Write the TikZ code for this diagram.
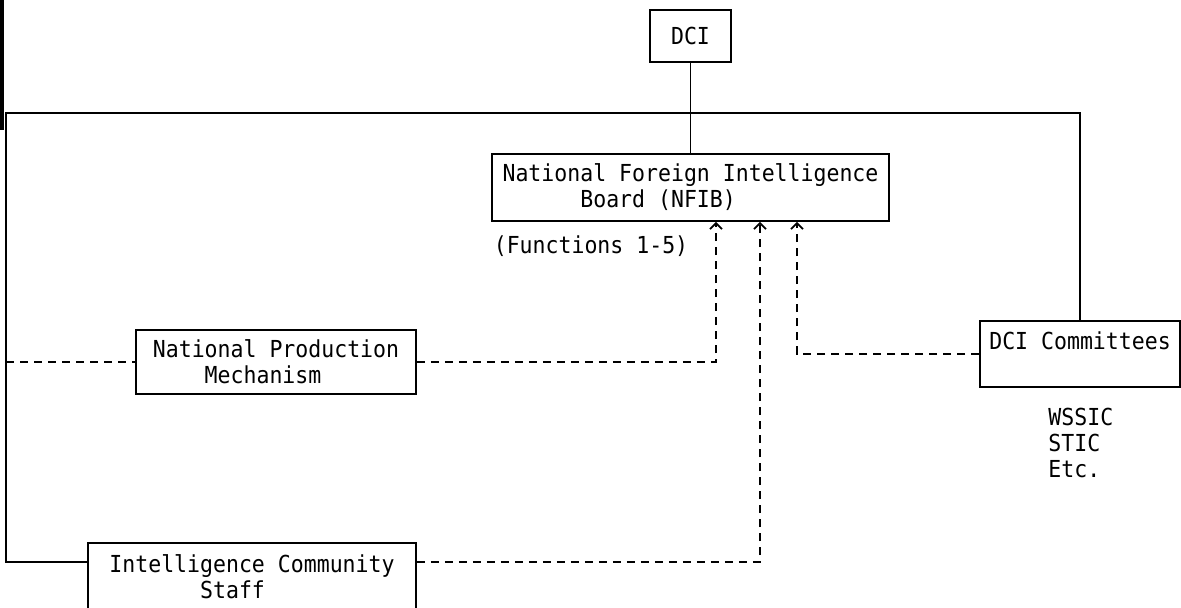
\documentclass[tikz,border=0pt]{standalone}
\usepackage{fontspec}
\newfontfamily\typer[FakeStretch=0.92]{DejaVu Sans Mono}
\usetikzlibrary{calc}
\usetikzlibrary{arrows.meta}

\begin{document}
\begin{tikzpicture}[x=0.5pt, y=-0.5pt,
  every node/.style={font=\typer\fontsize{11.7}{13}\selectfont},
  box/.style={draw, line width=.8pt, inner sep=0pt, align=left},
  link/.style={line width=.6pt},
  dashlink/.style={line width=.6pt, dash pattern=on 4pt off 3pt},
  feed/.style={dashlink, -{Straight Barb[length=3pt,width=6pt,line width=.9pt]}}]
\clip (0,0) rectangle (1181,608);
% boxes
\node[box, minimum width=40.5pt, minimum height=26pt] (dci) at (690.5,36) {DCI};
\node[box, minimum width=198.5pt, minimum height=33.5pt] (nfib) at (690.5,187.5)
  {National Foreign Intelligence\\\phantom{xxxxxx}Board (NFIB)};
\node[box, minimum width=140pt, minimum height=32pt] (npm) at (276,362)
  {National Production\\\phantom{xxxx}Mechanism};
\node[box, minimum width=164pt, minimum height=34pt] (ics) at (252,577)
  {Intelligence Community\\\phantom{xxxxxxx}Staff};
\node[box, minimum width=100pt, minimum height=33pt, align=center] (dcc) at (1080,354)
  {DCI Committees\\\mbox{}};
% side texts
\node (fn) at (591,246) {(Functions 1-5)};
\node[align=left, anchor=north west, inner sep=0pt] (cmte) at (1048,408) {WSSIC\\STIC\\Etc.};
% lines
\draw[line width=2.2pt] (2,0) -- (2,130);
\coordinate (tl) at (6,113);
\coordinate (icsL) at ([yshift=7.5pt]ics.west);
\coordinate (icsR) at ([yshift=7.5pt]ics.east);
\draw[link] (dci) -- (nfib);
\draw[link] (dcc.north) |- (tl) |- (icsL);
\draw[dashlink] (npm.west -| tl) -- (npm.west);
\foreach \src/\dx in {npm.east/25.5, icsR/69.5, dcc.west/106.5}
  \draw[feed] (\src) -| ($(nfib.south)+(\dx,0)$);
\end{tikzpicture}
\end{document}
